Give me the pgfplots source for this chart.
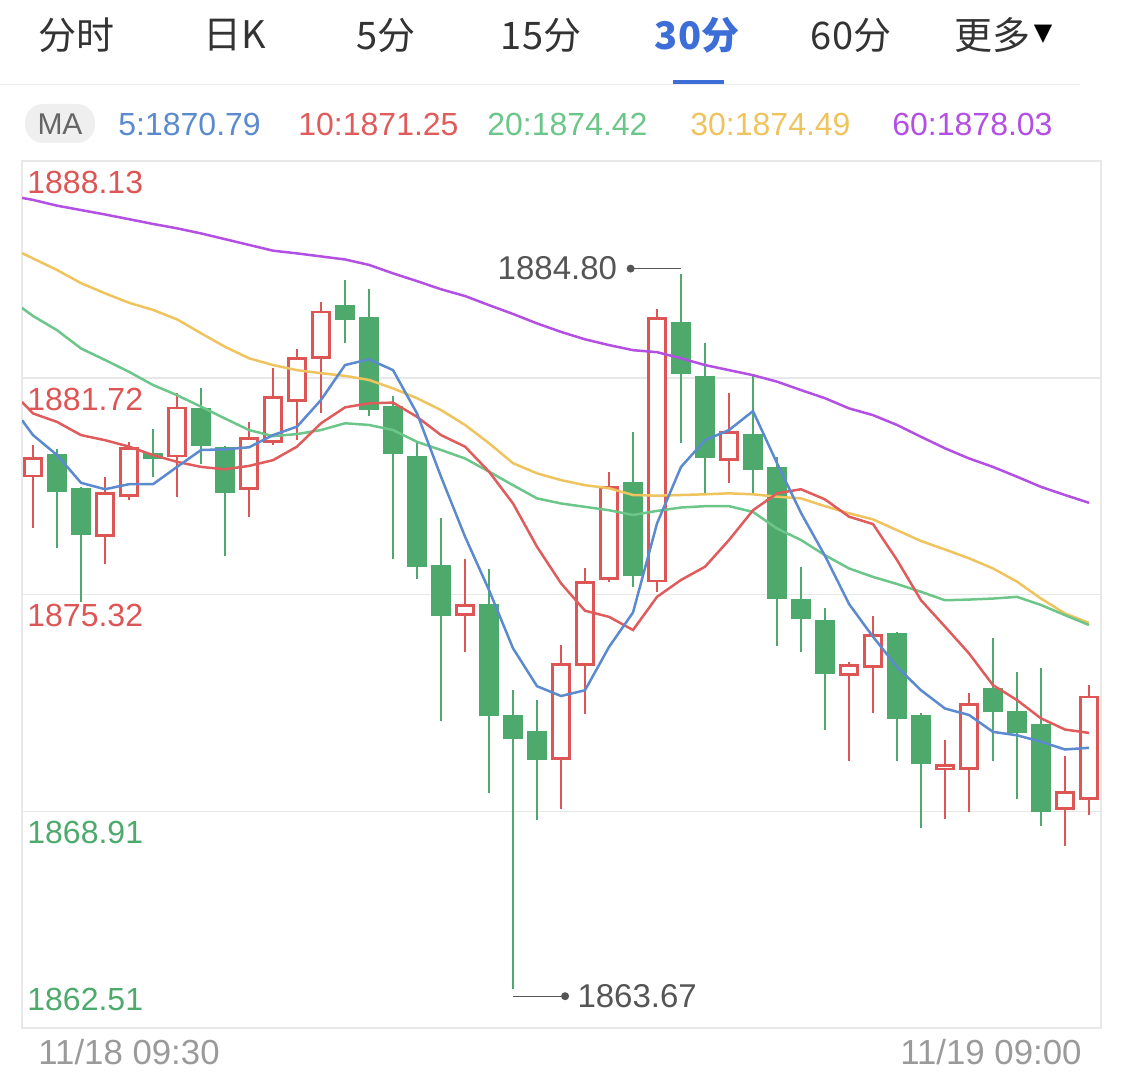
\documentclass[border=0pt]{standalone}
\usepackage{pgfplots}
\pgfplotsset{compat=1.18}
\usepackage{pgfplotstable}
\usepackage{fontspec}
\setmainfont{Liberation Sans}
\newfontfamily\cjk{Noto Sans CJK SC}
\newfontfamily\dejavu{DejaVu Sans}

\definecolor{cred}{HTML}{DD5555}
\definecolor{cgreen}{HTML}{4DAA6C}
\definecolor{mblue}{HTML}{5B8ACF}
\definecolor{mred}{HTML}{E05C5C}
\definecolor{mgreen}{HTML}{6CC68A}
\definecolor{myellow}{HTML}{EFC35D}
\definecolor{mpurple}{HTML}{B34FE2}
\definecolor{tabblue}{HTML}{3D6ED8}
\definecolor{txt}{HTML}{333333}
\definecolor{annogray}{HTML}{555555}
\definecolor{dategray}{HTML}{9A9A9A}
\definecolor{framegray}{HTML}{E8E8E8}
\definecolor{pillgray}{HTML}{EFEFEF}

% candles: x open high low close
\pgfplotstableread{
x o h l c
0 1878.78 1879.74 1877.29 1879.39
3 1877.03 1878.80 1876.21 1878.34
4 1878.21 1879.83 1878.11 1879.67
6 1879.37 1881.26 1878.21 1880.87
9 1878.41 1880.42 1877.60 1879.98
10 1879.79 1882.00 1879.74 1881.18
11 1881.02 1882.57 1879.90 1882.33
12 1882.28 1883.95 1880.69 1883.71
18 1874.69 1876.38 1873.61 1875.03
22 1870.44 1873.82 1868.97 1873.30
23 1873.20 1876.09 1871.78 1875.72
24 1875.75 1878.93 1875.70 1878.53
26 1875.68 1883.75 1875.40 1883.51
29 1879.27 1881.28 1878.60 1880.15
34 1872.91 1873.33 1870.40 1873.26
35 1873.15 1874.68 1871.81 1874.14
38 1870.13 1871.02 1868.70 1870.31
39 1870.13 1872.41 1868.90 1872.10
43 1868.95 1870.55 1867.89 1869.51
44 1869.26 1872.66 1868.80 1872.33
}\uptab
\pgfplotstableread{
x o h l c
1 1879.47 1879.61 1876.70 1878.36
2 1878.46 1878.50 1875.10 1877.08
5 1879.51 1880.20 1878.80 1879.33
7 1880.82 1881.41 1879.19 1879.71
8 1879.67 1879.70 1876.46 1878.31
13 1883.86 1884.61 1882.74 1883.43
14 1883.53 1884.34 1880.59 1880.77
15 1880.89 1881.18 1876.36 1879.47
16 1879.41 1879.79 1875.77 1876.14
17 1876.18 1877.59 1871.58 1874.69
19 1875.04 1876.07 1869.44 1871.73
20 1871.75 1872.50 1863.67 1871.04
21 1871.28 1872.20 1868.65 1870.43
25 1878.63 1880.13 1875.55 1875.87
27 1883.38 1884.80 1879.80 1881.83
28 1881.78 1882.74 1878.31 1879.36
30 1880.05 1881.83 1878.26 1879.00
31 1879.09 1879.39 1873.80 1875.18
32 1875.18 1876.12 1873.61 1874.59
33 1874.56 1874.91 1871.31 1872.96
36 1874.19 1874.22 1870.40 1871.63
37 1871.76 1871.82 1868.41 1870.30
40 1872.56 1874.04 1870.40 1871.85
41 1871.87 1873.02 1869.29 1871.23
42 1871.48 1873.14 1868.48 1868.90
}\downtab
% moving averages
\pgfplotstableread{
x m5 m10 m20 m30 m60
-0.46 1880.47 1881.01 1883.79 1885.41 1887.04
0 1880.03 1880.67 1883.55 1885.25 1886.98
1 1879.44 1880.42 1883.13 1884.91 1886.81
2 1878.62 1880.03 1882.59 1884.52 1886.68
3 1878.43 1879.88 1882.25 1884.22 1886.55
4 1878.58 1879.69 1881.90 1883.94 1886.41
5 1878.58 1879.44 1881.51 1883.73 1886.27
6 1879.09 1879.24 1881.21 1883.45 1886.14
7 1879.59 1879.09 1880.87 1883.04 1885.99
8 1879.61 1879.02 1880.52 1882.64 1885.82
9 1879.67 1879.12 1880.18 1882.30 1885.65
10 1880.03 1879.29 1880.00 1882.10 1885.48
11 1880.28 1879.69 1880.06 1881.95 1885.40
12 1881.07 1880.38 1880.18 1881.86 1885.31
13 1882.10 1880.85 1880.38 1881.78 1885.22
14 1882.27 1880.97 1880.33 1881.66 1885.06
15 1881.95 1880.99 1880.18 1881.41 1884.81
16 1880.67 1880.57 1879.83 1881.12 1884.58
17 1878.80 1880.03 1879.59 1880.77 1884.34
18 1877.03 1879.69 1879.34 1880.33 1884.14
19 1875.45 1878.95 1878.95 1879.79 1883.87
20 1873.73 1878.01 1878.55 1879.20 1883.61
21 1872.61 1876.73 1878.16 1878.90 1883.33
22 1872.32 1875.65 1878.01 1878.70 1883.08
23 1872.49 1874.84 1877.91 1878.55 1882.86
24 1873.77 1874.66 1877.81 1878.46 1882.69
25 1874.79 1874.27 1877.67 1878.26 1882.54
26 1877.42 1875.25 1877.79 1878.24 1882.48
27 1879.09 1875.75 1877.89 1878.26 1882.30
28 1879.88 1876.14 1877.93 1878.28 1882.10
29 1880.18 1876.93 1877.93 1878.31 1881.95
30 1880.74 1877.81 1877.76 1878.28 1881.80
31 1879.20 1878.31 1877.27 1878.21 1881.61
32 1877.73 1878.43 1876.93 1878.16 1881.36
33 1876.46 1878.13 1876.48 1877.93 1881.12
34 1875.04 1877.62 1876.09 1877.72 1880.82
35 1874.07 1877.40 1875.84 1877.54 1880.62
36 1873.18 1876.34 1875.63 1877.22 1880.33
37 1872.49 1875.15 1875.40 1876.90 1879.98
38 1871.95 1874.37 1875.15 1876.65 1879.64
39 1871.76 1873.58 1875.17 1876.39 1879.34
40 1871.26 1872.64 1875.20 1876.09 1879.09
41 1871.16 1872.20 1875.25 1875.70 1878.80
42 1870.97 1871.66 1875.01 1875.20 1878.50
43 1870.74 1871.33 1874.71 1874.76 1878.26
44 1870.79 1871.23 1874.42 1874.48 1878.03
}\matab

\begin{document}
\begin{tikzpicture}
\path[use as bounding box] (0,0) rectangle (562.5pt,541.5pt);

% ---- header tabs ----
\begin{scope}[every node/.style={inner sep=0pt, font=\cjk\fontsize{19pt}{21pt}\selectfont, text=txt}]
\node at (38.5pt,524pt) {分时};
\node at (117.5pt,524pt) {日K};
\node at (193pt,524pt) {5分};
\node at (270.5pt,524pt) {15分};
\node[text=tabblue, font=\cjk\bfseries\fontsize{19pt}{21pt}\selectfont] at (348.5pt,524pt) {30分};
\node at (425.5pt,524pt) {60分};
\node at (496pt,524pt) {更多};
\node[text=black, font=\dejavu\fontsize{12pt}{14pt}\selectfont] at (521.5pt,524.5pt) {▼};
\end{scope}
\fill[pillgray!70!framegray] (0,499pt) rectangle (540pt,499.7pt);
\fill[tabblue] (336.5pt,499.5pt) rectangle (362pt,501.5pt);

% ---- MA row ----
\fill[pillgray, rounded corners=9pt] (12.5pt,470pt) rectangle (47.5pt,489.5pt);
\node[inner sep=0pt, text=black!60, font=\fontsize{15pt}{17pt}\selectfont] at (30pt,479.5pt) {MA};
\begin{scope}[every node/.style={inner sep=0pt, anchor=west, font=\fontsize{16pt}{18pt}\selectfont}]
\node[text=mblue] at (59pt,479.5pt) {5:1870.79};
\node[text=mred] at (149pt,479.5pt) {10:1871.25};
\node[text=mgreen] at (243.5pt,479.5pt) {20:1874.42};
\node[text=myellow] at (345pt,479.5pt) {30:1874.49};
\node[text=mpurple] at (446pt,479.5pt) {60:1878.03};
\end{scope}

\begin{axis}[
  at={(11pt,27.5pt)}, anchor=south west,
  scale only axis, width=539.5pt, height=433.5pt,
  xmin=-0.46, xmax=44.5, ymin=1862.51, ymax=1888.13,
  xtick=\empty, ytick={1868.91,1875.32,1881.72}, yticklabels={},
  major tick length=0pt,
  ymajorgrids, major grid style={framegray, line width=0.6pt},
  axis line style={framegray, line width=0.6pt},
  clip=true]
% wicks
\addplot[draw=none, mark=none, forget plot,
  error bars/.cd, y dir=minus, y explicit, error mark=none,
  error bar style={line width=1.45pt, draw=cred, solid}]
  table[x=x, y=h, y error minus expr=\thisrow{h}-\thisrow{l}] \uptab;
\addplot[draw=none, mark=none, forget plot,
  error bars/.cd, y dir=minus, y explicit, error mark=none,
  error bar style={line width=1.45pt, draw=cgreen, solid}]
  table[x=x, y=h, y error minus expr=\thisrow{h}-\thisrow{l}] \downtab;
% green bodies (filled)
\addplot[draw=none, mark=none, forget plot,
  error bars/.cd, y dir=minus, y explicit, error mark=none,
  error bar style={line width=9.6pt, draw=cgreen, solid}]
  table[x=x, y=o, y error minus expr=\thisrow{o}-\thisrow{c}] \downtab;
% red bodies (hollow)
\addplot[draw=none, mark=none, forget plot,
  error bars/.cd, y dir=minus, y explicit, error mark=none,
  error bar style={line width=9.6pt, draw=cred, solid}]
  table[x=x, y=c, y error minus expr=\thisrow{c}-\thisrow{o}] \uptab;
\addplot[draw=none, mark=none, forget plot,
  error bars/.cd, y dir=minus, y explicit, error mark=none,
  error bar style={line width=6.8pt, draw=white, solid}]
  table[x=x, y expr=\thisrow{c}-0.082, y error minus expr=\thisrow{c}-\thisrow{o}-0.164] \uptab;
% moving averages
\addplot[mpurple, line width=1.25pt, mark=none] table[x=x, y=m60] \matab;
\addplot[myellow, line width=1.25pt, mark=none] table[x=x, y=m30] \matab;
\addplot[mgreen, line width=1.25pt, mark=none] table[x=x, y=m20] \matab;
\addplot[mred, line width=1.25pt, mark=none] table[x=x, y=m10] \matab;
\addplot[mblue, line width=1.25pt, mark=none] table[x=x, y=m5] \matab;
% max / min annotations (drawn just beyond the extreme wicks)
\draw[annogray, line width=0.6pt] (axis cs:24.9,1884.95) -- (axis cs:27,1884.95);
\fill[annogray] (axis cs:24.9,1884.95) circle (2pt);
\node[anchor=east, inner sep=0pt, text=annogray, font=\fontsize{16.5pt}{18pt}\selectfont] at (axis cs:24.35,1884.95) {1884.80};
\draw[annogray, line width=0.6pt] (axis cs:20,1863.45) -- (axis cs:22.17,1863.45);
\fill[annogray] (axis cs:22.17,1863.45) circle (2pt);
\node[anchor=west, inner sep=0pt, text=annogray, font=\fontsize{16.5pt}{18pt}\selectfont] at (axis cs:22.67,1863.45) {1863.67};
\end{axis}

% ---- price labels inside plot ----
\begin{scope}[every node/.style={inner sep=0pt, anchor=west, font=\fontsize{16pt}{18pt}\selectfont}]
\node[text=cred] at (13.5pt,450.5pt) {1888.13};
\node[text=cred] at (13.5pt,342pt) {1881.72};
\node[text=cred] at (13.5pt,234pt) {1875.32};
\node[text=cgreen] at (13.5pt,125.5pt) {1868.91};
\node[text=cgreen] at (13.5pt,42pt) {1862.51};
\end{scope}
% ---- time labels ----
\node[inner sep=0pt, anchor=west, text=dategray, font=\fontsize{17.4pt}{19pt}\selectfont] at (19pt,15.5pt) {11/18 09:30};
\node[inner sep=0pt, anchor=east, text=dategray, font=\fontsize{17.4pt}{19pt}\selectfont] at (541pt,15.5pt) {11/19 09:00};
\end{tikzpicture}
\end{document}
